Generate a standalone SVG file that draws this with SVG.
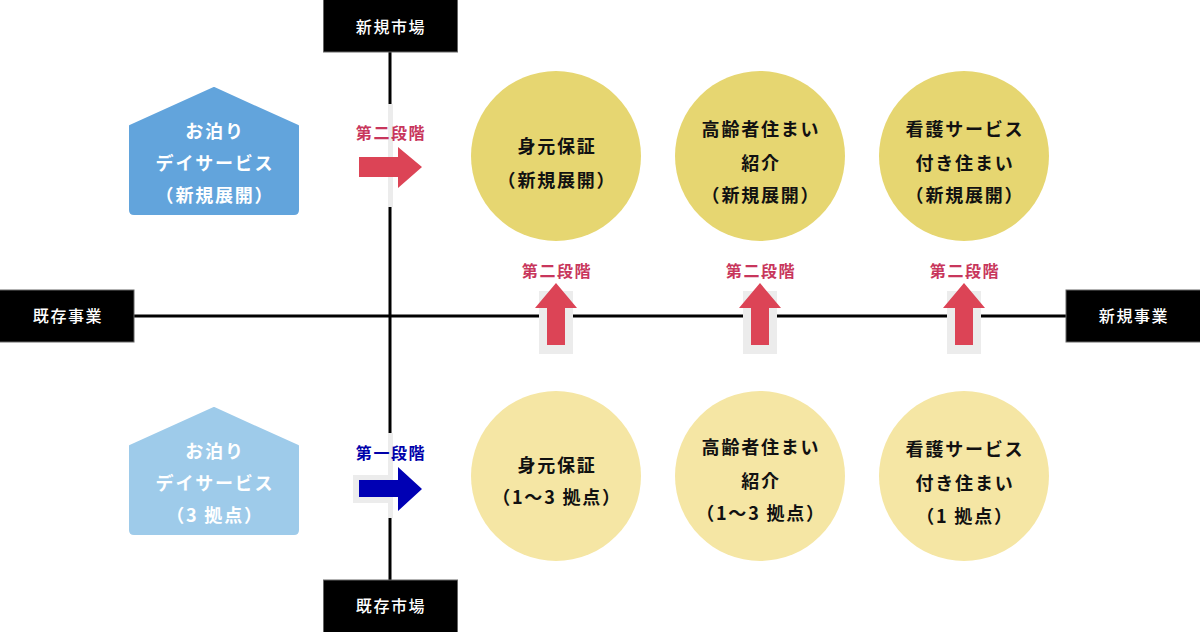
<svg xmlns="http://www.w3.org/2000/svg" width="1200" height="632" viewBox="0 0 1200 632">
<style>
text{font-family:"Noto Sans CJK JP","Noto Sans",sans-serif;text-anchor:middle;letter-spacing:0.1em}
.lbl{fill:#fff;font-size:16px;font-weight:500}
.box{fill:#000;stroke:#666;stroke-width:1}
.ax{stroke:#000;stroke-width:3;fill:none}
.gray{fill:#ececec}
.red{fill:#dc4456}
.blue{fill:#0000b4}
.st2{fill:#c8365c;font-size:16px;font-weight:700}
.st1{fill:#0000aa;font-size:16px;font-weight:700}
.ct{fill:#111;font-size:18px;font-weight:700}
.ht{fill:#fff;font-size:18px;font-weight:700}
.c1{fill:#e6d671}
.c2{fill:#f5e6a4}
</style>
<g id="connectors">
<line class="ax" x1="390" y1="52" x2="390" y2="580"/>
<line class="ax" x1="134" y1="316" x2="1066" y2="316"/>
</g>
<g id="market-new"><rect class="box" x="323.5" y="-1" width="134" height="53"/><text class="lbl" x="391" y="33">新規市場</text></g>
<g id="market-existing"><rect class="box" x="323.5" y="580" width="134" height="53"/><text class="lbl" x="391" y="612">既存市場</text></g>
<g id="biz-existing"><rect class="box" x="-1" y="290" width="135" height="52"/><text class="lbl" x="68" y="322">既存事業</text></g>
<g id="biz-new"><rect class="box" x="1066" y="290" width="135" height="52"/><text class="lbl" x="1134" y="322">新規事業</text></g>

<g id="house-new">
<path d="M214 88 L298 126 L298 210 Q298 214 294 214 L134 214 Q130 214 130 210 L130 126 Z" fill="#62a4dc" stroke="#62a4dc" stroke-linejoin="round" stroke-width="2"/>
<text class="ht" x="215" y="138">お泊り</text>
<text class="ht" x="215" y="170">デイサービス</text>
<text class="ht" x="215" y="202">（新規展開）</text>
</g>
<g id="house-existing">
<path d="M214 408 L298 446 L298 530 Q298 534 294 534 L134 534 Q130 534 130 530 L130 446 Z" fill="#9ecbea" stroke="#9ecbea" stroke-linejoin="round" stroke-width="2"/>
<text class="ht" x="215" y="458">お泊り</text>
<text class="ht" x="215" y="490">デイサービス</text>
<text class="ht" x="215" y="522">（3 拠点）</text>
</g>

<g id="arrow-stage2-right">
<rect class="gray" x="388" y="104" width="5" height="103"/>
<text class="st2" x="391" y="139">第二段階</text>
<path class="red" d="M359 157 L398 157 L398 147 L422 167 L398 188 L398 177 L359 177 Z"/>
</g>
<g id="arrow-stage1-right">
<rect class="gray" x="388" y="433" width="5" height="85"/>
<rect class="gray" x="353" y="475" width="40" height="28"/>
<text class="st1" x="391" y="459">第一段階</text>
<path class="blue" d="M359 480 L398 480 L398 467 L422 489 L398 511 L398 497 L359 497 Z"/>
</g>

<g id="arrow-up-1">
<text class="st2" x="557" y="277">第二段階</text>
<rect class="gray" x="539" y="291" width="34" height="63"/>
<path class="red" d="M547 345 L547 308 L535 308 L556 283 L577 308 L565 308 L565 345 Z"/>
</g>
<g id="arrow-up-2">
<text class="st2" x="761" y="277">第二段階</text>
<rect class="gray" x="743" y="291" width="34" height="63"/>
<path class="red" d="M751 345 L751 308 L739 308 L760 283 L781 308 L769 308 L769 345 Z"/>
</g>
<g id="arrow-up-3">
<text class="st2" x="965" y="277">第二段階</text>
<rect class="gray" x="947" y="291" width="34" height="63"/>
<path class="red" d="M955 345 L955 308 L943 308 L964 283 L985 308 L973 308 L973 345 Z"/>
</g>

<g id="circle-guarantee-new">
<circle class="c1" cx="556" cy="156" r="85"/>
<text class="ct" x="557" y="153">身元保証</text>
<text class="ct" x="557" y="187">（新規展開）</text>
</g>
<g id="circle-housing-new">
<circle class="c1" cx="760" cy="156" r="85"/>
<text class="ct" x="761" y="136">高齢者住まい</text>
<text class="ct" x="761" y="170">紹介</text>
<text class="ct" x="761" y="202">（新規展開）</text>
</g>
<g id="circle-nursing-new">
<circle class="c1" cx="964" cy="156" r="85"/>
<text class="ct" x="965" y="136">看護サービス</text>
<text class="ct" x="965" y="170">付き住まい</text>
<text class="ct" x="965" y="202">（新規展開）</text>
</g>
<g id="circle-guarantee-existing">
<circle class="c2" cx="556" cy="476" r="85"/>
<text class="ct" x="557" y="472">身元保証</text>
<text class="ct" x="557" y="504">（1〜3 拠点）</text>
</g>
<g id="circle-housing-existing">
<circle class="c2" cx="760" cy="476" r="85"/>
<text class="ct" x="761" y="454">高齢者住まい</text>
<text class="ct" x="761" y="488">紹介</text>
<text class="ct" x="761" y="520">（1〜3 拠点）</text>
</g>
<g id="circle-nursing-existing">
<circle class="c2" cx="964" cy="476" r="85"/>
<text class="ct" x="965" y="456">看護サービス</text>
<text class="ct" x="965" y="490">付き住まい</text>
<text class="ct" x="965" y="523">（1 拠点）</text>
</g>
</svg>
